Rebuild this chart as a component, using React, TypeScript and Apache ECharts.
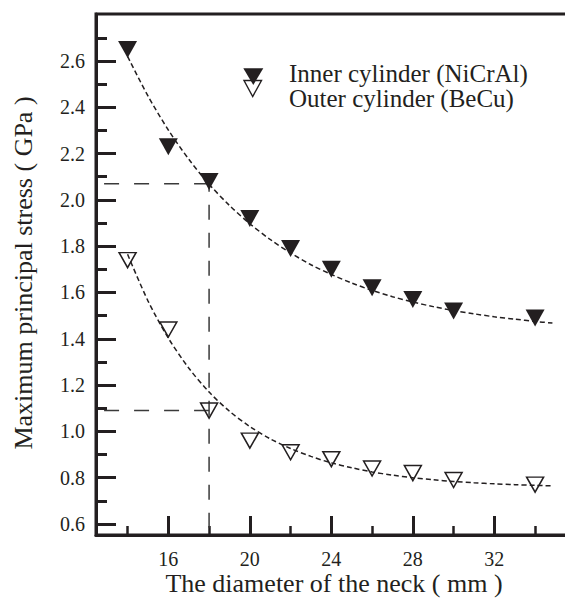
import React, { useEffect, useRef } from "react";
import * as echarts from "echarts";

const neckDiameter = [14, 16, 18, 20, 22, 24, 26, 28, 30, 34];
const innerStress = [2.65, 2.23, 2.08, 1.92, 1.79, 1.70, 1.62, 1.57, 1.52, 1.49];
const outerStress = [1.74, 1.44, 1.09, 0.96, 0.91, 0.88, 0.84, 0.82, 0.79, 0.77];

// Dashed fit curves
const fitX = [14, 15, 16, 17, 18, 19, 20, 21, 22, 23, 24, 25, 26, 27, 28, 29, 30, 31, 32, 33, 34, 34.85];
const innerFit = [2.62, 2.449, 2.302, 2.176, 2.068, 1.976, 1.897, 1.829, 1.771, 1.72, 1.678, 1.641, 1.609, 1.582, 1.559, 1.539, 1.522, 1.508, 1.495, 1.485, 1.475, 1.468];
const outerFit = [1.765, 1.564, 1.403, 1.274, 1.17, 1.087, 1.021, 0.968, 0.926, 0.892, 0.864, 0.843, 0.825, 0.811, 0.8, 0.791, 0.784, 0.778, 0.7735, 0.77, 0.767, 0.765];

// Guide lines
const guideX = 18;
const guideInner = 2.07;
const guideOuter = 1.09;

// Axis ticks
const xMajorTicks = [16, 20, 24, 28, 32];
const xMinorTicks = [14, 18, 22, 26, 30, 34];
const yMajorTicks = [0.6, 0.8, 1.0, 1.2, 1.4, 1.6, 1.8, 2.0, 2.2, 2.4, 2.6];
const yMinorTicks = [0.7, 0.9, 1.1, 1.3, 1.5, 1.7, 1.9, 2.1, 2.3, 2.5, 2.7];

const X_MIN = 12.45;
const X_MAX = 36.94;
const Y_MIN = 0.5525;
const Y_MAX = 2.803;

const INK = "#231f20";
const FONT = "'Liberation Serif', 'Times New Roman', Times, serif";

const innerName = "Inner cylinder (NiCrAl)";
const outerName = "Outer cylinder (BeCu)";

export default function App() {
  const ref = useRef<HTMLDivElement>(null);

  useEffect(() => {
    if (!ref.current) return;
    const chart = echarts.init(ref.current, null, { renderer: "svg" });

    const baseX = {
      type: "value" as const,
      min: X_MIN,
      max: X_MAX,
      position: "bottom" as const,
      splitLine: { show: false },
    };
    const baseY = {
      type: "value" as const,
      min: Y_MIN,
      max: Y_MAX,
      position: "left" as const,
      splitLine: { show: false },
    };

    const fitLine = (xs: number[], ys: number[]) => xs.map((x, i) => [x, ys[i]]);
    const titleFont = `26px ${FONT}`;
    const legendFont = `25px ${FONT}`;

    chart.setOption({
      animation: false,
      backgroundColor: "#fff",
      grid: {
        left: 96,
        top: 14,
        width: 499,
        height: 521,
        containLabel: false,
        outerBoundsMode: "none",
        show: true,
        borderColor: INK,
        borderWidth: 3,
        backgroundColor: "transparent",
      },
      xAxis: [
        {
          ...baseX,
          axisLine: { show: true, lineStyle: { color: INK, width: 3 } },
          axisTick: {
            show: true,
            inside: true,
            length: 19,
            customValues: xMajorTicks,
            lineStyle: { color: INK, width: 3 },
          },
          axisLabel: {
            show: true,
            customValues: xMajorTicks,
            margin: 14,
            color: INK,
            fontSize: 20,
            fontFamily: FONT,
          },
        },
        {
          ...baseX,
          axisLine: { show: false },
          axisTick: {
            show: true,
            inside: true,
            length: 9,
            customValues: xMinorTicks,
            lineStyle: { color: INK, width: 2.5 },
          },
          axisLabel: { show: false },
        },
      ],
      yAxis: [
        {
          ...baseY,
          axisLine: { show: true, lineStyle: { color: INK, width: 3 } },
          axisTick: {
            show: true,
            inside: true,
            length: 20,
            customValues: yMajorTicks,
            lineStyle: { color: INK, width: 3 },
          },
          axisLabel: {
            show: true,
            customValues: yMajorTicks,
            margin: 11,
            color: INK,
            fontSize: 20,
            fontFamily: FONT,
            formatter: (v: number) => v.toFixed(1),
          },
        },
        {
          ...baseY,
          axisLine: { show: false },
          axisTick: {
            show: true,
            inside: true,
            length: 11,
            customValues: yMinorTicks,
            lineStyle: { color: INK, width: 3 },
          },
          axisLabel: { show: false },
        },
      ],
      graphic: [
        {
          type: "text",
          x: 334,
          y: 583,
          style: {
            text: "The diameter of the neck ( mm )",
            font: titleFont,
            fill: INK,
            textAlign: "center",
            textVerticalAlign: "middle",
          },
        },
        {
          type: "text",
          x: 23,
          y: 273,
          rotation: Math.PI / 2,
          style: {
            text: "Maximum principal stress ( GPa )",
            font: titleFont,
            fill: INK,
            textAlign: "center",
            textVerticalAlign: "middle",
          },
        },
        {
          type: "polygon",
          shape: { points: [[243.3, 68.3], [263.3, 68.3], [253.3, 85]] },
          style: { fill: INK },
        },
        {
          type: "polygon",
          shape: { points: [[244, 80.5], [261.5, 80.5], [252.7, 96.5]] },
          style: { fill: "none", stroke: INK, lineWidth: 1.4 },
        },
        {
          type: "text",
          x: 289,
          y: 73.5,
          style: {
            text: innerName,
            font: legendFont,
            fill: INK,
            textAlign: "left",
            textVerticalAlign: "middle",
          },
        },
        {
          type: "text",
          x: 289,
          y: 98.5,
          style: {
            text: outerName,
            font: legendFont,
            fill: INK,
            textAlign: "left",
            textVerticalAlign: "middle",
          },
        },
      ],
      series: [
        {
          type: "line",
          name: "inner fit",
          data: fitLine(fitX, innerFit),
          smooth: 0.3,
          showSymbol: false,
          symbol: "none",
          lineStyle: { color: INK, width: 1.5, type: [5, 3] },
          z: 2,
        },
        {
          type: "line",
          name: "outer fit",
          data: fitLine(fitX, outerFit),
          smooth: 0.3,
          showSymbol: false,
          symbol: "none",
          lineStyle: { color: INK, width: 1.5, type: [5, 3] },
          z: 2,
        },
        {
          type: "line",
          name: "guide inner",
          data: [
            [guideX, guideInner],
            [X_MIN, guideInner],
          ],
          showSymbol: false,
          symbol: "none",
          lineStyle: { color: "#3a3a3a", width: 1.5, type: [15, 15] },
          z: 1,
        },
        {
          type: "line",
          name: "guide vertical",
          data: [
            [guideX, guideInner],
            [guideX, Y_MIN],
          ],
          showSymbol: false,
          symbol: "none",
          lineStyle: { color: "#3a3a3a", width: 1.5, type: [15, 13], dashOffset: 7 },
          z: 1,
        },
        {
          type: "line",
          name: "guide outer",
          data: [
            [guideX, guideOuter],
            [X_MIN, guideOuter],
          ],
          showSymbol: false,
          symbol: "none",
          lineStyle: { color: "#3a3a3a", width: 1.5, type: [15, 15] },
          z: 1,
        },
        {
          type: "scatter",
          name: innerName,
          data: neckDiameter.map((x, i) => [x, innerStress[i]]),
          symbol: "triangle",
          symbolRotate: 180,
          symbolSize: [19, 17],
          itemStyle: { color: INK, opacity: 1 },
          z: 5,
        },
        {
          type: "scatter",
          name: outerName,
          data: neckDiameter.map((x, i) => [x, outerStress[i]]),
          symbol: "triangle",
          symbolRotate: 180,
          symbolSize: [17, 15],
          itemStyle: { color: "rgba(0,0,0,0)", borderColor: INK, borderWidth: 1.5, opacity: 1 },
          z: 5,
        },
      ],
    });

    return () => chart.dispose();
  }, []);

  return (
    <div
      ref={ref}
      style={{ position: "absolute", left: 0, top: 0, width: 565, height: 603 }}
    />
  );
}
